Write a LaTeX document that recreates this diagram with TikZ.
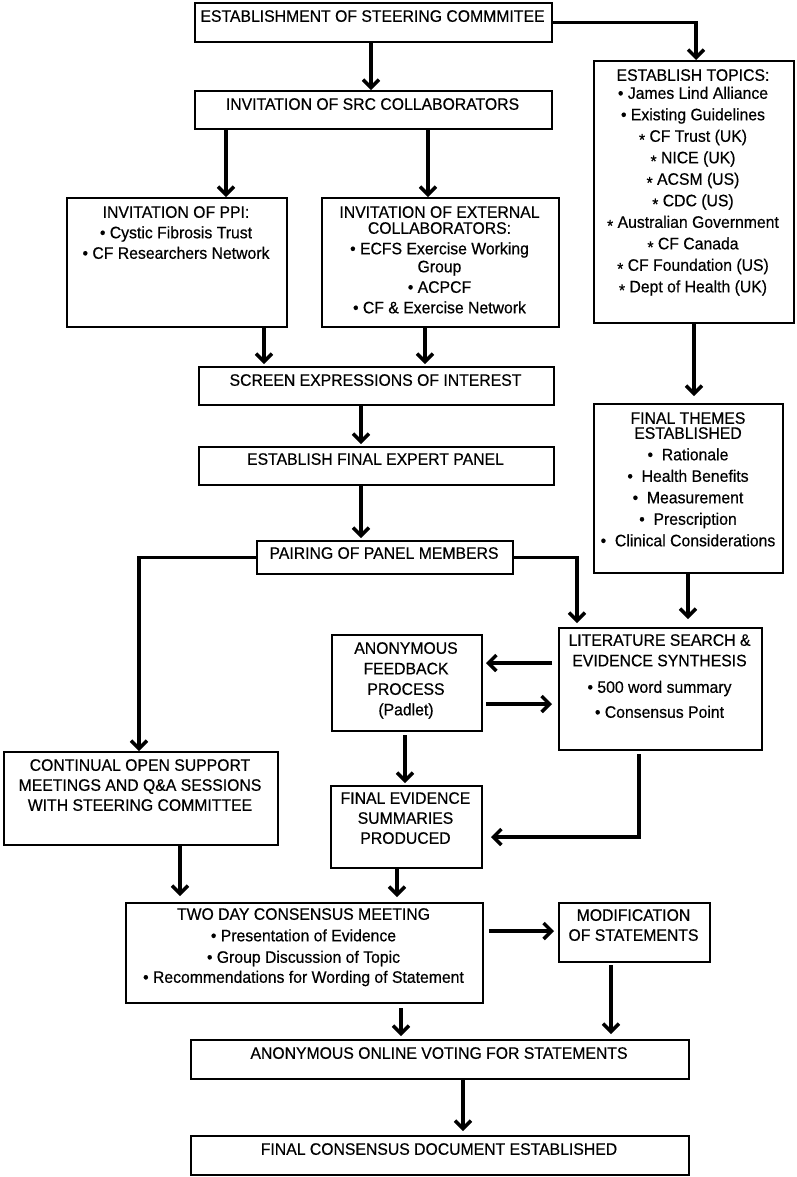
\documentclass[tikz,border=0pt]{standalone}
\usepackage{fontspec}
\setmainfont{Liberation Sans}[FakeStretch=0.95,FakeBold=0.5]
\usetikzlibrary{arrows.meta}
\newcommand\myast{\raisebox{-0.22em}{*}}
\newcommand\mkbox[5]{\node[box, anchor=north west, minimum width={#4bp-#2bp}, minimum height={#5bp-#3bp}] (#1) at (#2,#3) {};}
\tikzset{
  box/.style={draw, line width=2bp, inner sep=0pt},
  txt/.style={anchor=north, inner sep=0pt, align=center, font=\fontsize{16.6bp}{20.5bp}\selectfont},
  arr/.style={line width=3.5bp, -{Straight Barb[length=8bp,width=16bp]}},
  conn/.style={line width=3.5bp}
}
\begin{document}
\begin{tikzpicture}[x=1bp,y=-1bp]
\useasboundingbox (0,0) rectangle (797,1177);
% boxes
\mkbox{steer}{194}{2}{551}{41}
\mkbox{src}{194}{90}{551}{128}
\mkbox{ppi}{66}{197}{286}{326}
\mkbox{ext}{321}{197}{558}{326}
\mkbox{topics}{593}{60}{793}{322}
\mkbox{screen}{198}{366}{553}{404}
\mkbox{panel}{198}{446}{553}{484}
\mkbox{pairing}{256}{540}{512}{573}
\mkbox{themes}{593}{403}{782}{572}
\mkbox{lit}{558}{627}{761}{749}
\mkbox{anon}{331}{634}{481}{730}
\mkbox{fev}{330}{785}{481}{867}
\mkbox{cont}{3}{751}{277}{844}
\mkbox{two}{125}{902}{482}{1002}
\mkbox{mod}{558}{902}{709}{961}
\mkbox{vote}{190}{1039}{688}{1078}
\mkbox{final}{190}{1135}{688}{1174}
% texts
\node[txt] (steer-t) at (372.5,10) {ESTABLISHMENT OF STEERING COMMMITEE};
\node[txt] (src-t) at (372.5,98) {INVITATION OF SRC COLLABORATORS};
\node[txt] (ppi-t) at (176,206) {INVITATION OF PPI:\\ • Cystic Fibrosis Trust\\ • CF Researchers Network};
\node[txt] (ext-t) at (439.5,206) {INVITATION OF EXTERNAL\\[-4.5bp] COLLABORATORS:\\ • ECFS Exercise Working\\[-2.5bp] Group\\ • ACPCF\\ • CF \& Exercise Network};
\node[txt] (topics-t) at (693,69) {ESTABLISH TOPICS:\\[-2.5bp] • James Lind Alliance\\[1bp] • Existing Guidelines\\[1bp] \myast{} CF Trust (UK)\\[1bp] \myast{} NICE (UK)\\[1bp] \myast{} ACSM (US)\\[1bp] \myast{} CDC (US)\\[1bp] \myast{} Australian Government\\[1bp] \myast{} CF Canada\\[1bp] \myast{} CF Foundation (US)\\[1bp] \myast{} Dept of Health (UK)};
\node[txt] (screen-t) at (375.5,374) {SCREEN EXPRESSIONS OF INTEREST};
\node[txt] (panel-t) at (375.5,453) {ESTABLISH FINAL EXPERT PANEL};
\node[txt] (pairing-t) at (384,547) {PAIRING OF PANEL MEMBERS};
\node[txt] (themes-t) at (688,412) {FINAL THEMES\\[-5.5bp] ESTABLISHED\\[1bp] •\ \ Rationale\\[1bp] •\ \ Health Benefits\\[1bp] •\ \ Measurement\\[1bp] •\ \ Prescription\\[1bp] •\ \ Clinical Considerations};
\node[txt] (lit-t) at (659.5,634) {LITERATURE SEARCH \&\\ EVIDENCE SYNTHESIS\\[6bp] • 500 word summary\\[4.5bp] • Consensus Point};
\node[txt] (anon-t) at (406,642) {ANONYMOUS\\ FEEDBACK\\ PROCESS\\ (Padlet)};
\node[txt] (fev-t) at (405.5,792) {FINAL EVIDENCE\\[-0.5bp] SUMMARIES\\[-0.5bp] PRODUCED};
\node[txt] (cont-t) at (140,759) {CONTINUAL OPEN SUPPORT\\[-0.5bp] MEETINGS AND Q\&A SESSIONS\\[-0.5bp] WITH STEERING COMMITTEE};
\node[txt] (two-t) at (303.5,908) {TWO DAY CONSENSUS MEETING\\[1bp] • Presentation of Evidence\\[1bp] • Group Discussion of Topic\\[-0.5bp] • Recommendations for Wording of Statement};
\node[txt] (mod-t) at (633.5,909) {MODIFICATION\\[-0.5bp] OF STATEMENTS};
\node[txt] (vote-t) at (439,1047) {ANONYMOUS ONLINE VOTING FOR STATEMENTS};
\node[txt] (final-t) at (439,1143) {FINAL CONSENSUS DOCUMENT ESTABLISHED};
% connectors
\draw[arr] (371,0 |- steer.south) -- (371,0 |- src.north);
\draw[arr] (steer.east) -| (696,0 |- topics.north);
\draw[arr] (226,0 |- src.south) -- (226,0 |- ppi.north);
\draw[arr] (428,0 |- src.south) -- (428,0 |- ext.north);
\draw[arr, shorten >=2bp] (264,0 |- ppi.south) -- (264,0 |- screen.north);
\draw[arr, shorten >=2bp] (425,0 |- ext.south) -- (425,0 |- screen.north);
\draw[arr, shorten >=2bp] (361,0 |- screen.south) -- (361,0 |- panel.north);
\draw[arr, shorten >=2bp] (361,0 |- panel.south) -- (361,0 |- pairing.north);
\draw[arr] (pairing.west) -| (139,0 |- cont.north);
\draw[arr, shorten >=4bp] (pairing.east) -| (577,0 |- lit.north);
\draw[arr, shorten >=7bp] (694,0 |- topics.south) -- (694,0 |- themes.north);
\draw[arr, shorten >=8bp] (688,0 |- themes.south) -- (688,0 |- lit.north);
\draw[arr, shorten <=6bp, shorten >=3bp] (lit.west |- 0,663) -- (anon.east |- 0,663);
\draw[arr, shorten <=3bp, shorten >=6bp] (anon.east |- 0,704) -- (lit.west |- 0,704);
\draw[arr, shorten <=3bp, shorten >=2bp] (405,0 |- anon.south) -- (405,0 |- fev.north);
\draw[arr, shorten <=3bp, shorten >=8bp] (639,0 |- lit.south) |- (fev.east |- 0,837);
\draw[arr, shorten >=6bp] (180,0 |- cont.south) -- (180,0 |- two.north);
\draw[arr, shorten >=5bp] (397,0 |- fev.south) -- (397,0 |- two.north);
\draw[arr, shorten <=5bp, shorten >=4bp] (two.east |- 0,931) -- (mod.west |- 0,931);
\draw[arr, shorten <=4bp, shorten >=3bp] (401,0 |- two.south) -- (401,0 |- vote.north);
\draw[arr, shorten <=2bp, shorten >=5bp] (611,0 |- mod.south) -- (611,0 |- vote.north);
\draw[arr, shorten >=4bp] (463,0 |- vote.south) -- (463,0 |- final.north);
\end{tikzpicture}
\end{document}
